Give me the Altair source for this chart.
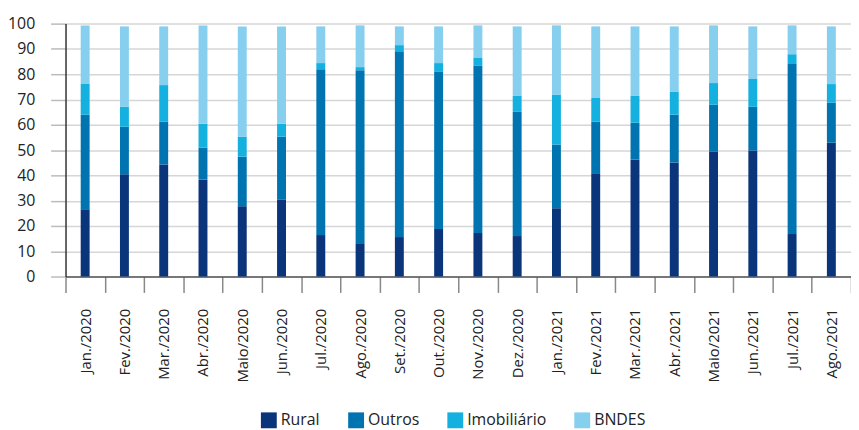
import altair as alt
import pandas as pd

months = ["Jan./2020", "Fev./2020", "Mar./2020", "Abr./2020", "Maio/2020", "Jun./2020",
          "Jul./2020", "Ago./2020", "Set./2020", "Out./2020", "Nov./2020", "Dez./2020",
          "Jan./2021", "Fev./2021", "Mar./2021", "Abr./2021", "Maio/2021", "Jun./2021",
          "Jul./2021", "Ago./2021"]

rural = [26.6, 40.4, 44.3, 38.4, 27.8, 30.5, 16.4, 12.9, 15.6, 18.8, 17.2, 16.0,
         27.0, 40.8, 46.3, 45.1, 49.4, 49.8, 16.8, 52.9]
outros = [37.4, 18.8, 16.9, 12.6, 19.6, 24.8, 65.6, 68.7, 73.5, 62.1, 66.2, 49.1,
          25.2, 20.4, 14.5, 18.9, 18.5, 17.3, 67.2, 15.8]
imobiliario = [12.1, 7.9, 14.5, 9.4, 7.9, 5.1, 2.4, 1.2, 2.4, 3.5, 3.0, 6.3,
               19.6, 9.4, 10.6, 9.0, 8.6, 11.0, 3.9, 7.4]
bndes = [23.2, 31.8, 23.2, 38.9, 43.6, 38.5, 14.5, 16.5, 7.4, 14.5, 12.9, 27.5,
         27.5, 28.3, 27.5, 25.9, 22.8, 20.8, 11.4, 22.8]

series_names = ["Rural", "Outros", "Imobiliário", "BNDES"]
series_colors = ["#0a357a", "#0074b1", "#14b1e0", "#87cfee"]

rows = []
for i, m in enumerate(months):
    for k, (name, vals) in enumerate(zip(series_names, [rural, outros, imobiliario, bndes])):
        rows.append({"mes": m, "serie": name, "valor": vals[i], "ordem": k})
df = pd.DataFrame(rows)

font = "Open Sans"

chart = alt.Chart(df).mark_bar(size=9).encode(
    x=alt.X("mes:N", sort=months, title=None,
            scale=alt.Scale(paddingInner=0, paddingOuter=0),
            axis=alt.Axis(labelAngle=270, labelFontSize=15, labelColor="#222222",
                          labelFont=font, labelPadding=16, tickBand="extent",
                          tickSize=16, tickColor="#888888", tickWidth=1.5,
                          domainColor="#555555", domainWidth=1.5, grid=False)),
    y=alt.Y("valor:Q", stack="zero", title=None,
            scale=alt.Scale(domain=[0, 100], nice=False),
            axis=alt.Axis(values=list(range(0, 101, 10)), labelFontSize=16,
                          labelColor="#222222", labelFont=font, labelPadding=16,
                          tickSize=15, tickColor="#bbbbbb", tickWidth=1.5,
                          domainColor="#333333", domainWidth=1.5,
                          grid=True, gridColor="#d6d6d6", gridWidth=1.5)),
    color=alt.Color("serie:N", sort=series_names,
                    scale=alt.Scale(domain=series_names, range=series_colors),
                    legend=alt.Legend(title=None, orient="none", direction="horizontal",
                                      legendX=197, legendY=392, symbolType="square",
                                      symbolSize=256, symbolStrokeWidth=0,
                                      labelFontSize=16, labelFont=font,
                                      labelColor="#222222", labelOffset=4,
                                      columnPadding=28)),
    order=alt.Order("ordem:Q", sort="ascending"),
).properties(
    width=792, height=255,
    autosize=alt.AutoSizeParams(type="none"),
    padding={"left": 58, "top": 14, "right": 0, "bottom": 152},
).configure_view(stroke=None)

chart.save("out.html", embed_options={"renderer": "svg", "actions": False})
